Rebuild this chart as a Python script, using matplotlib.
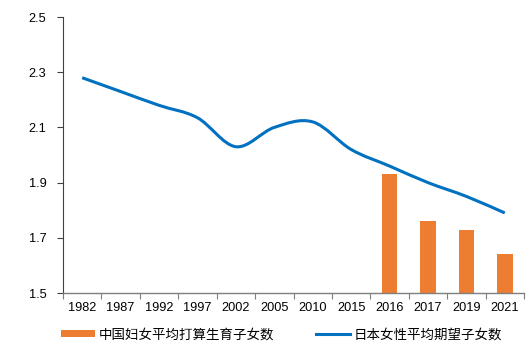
import numpy as np
import matplotlib
matplotlib.use("Agg")
import matplotlib.pyplot as plt
from matplotlib.path import Path
from matplotlib.patches import PathPatch, Patch
from matplotlib.lines import Line2D

years = ["1982", "1987", "1992", "1997", "2002", "2005", "2010", "2015",
         "2016", "2017", "2019", "2021"]
# 日本女性平均期望子女数
japan = [2.28, 2.23, 2.18, 2.135, 2.03, 2.10, 2.12, 2.02, 1.96, 1.90, 1.85, 1.79]
# 中国妇女平均打算生育子女数 (only last four years)
china_years = ["2016", "2017", "2019", "2021"]
china = [1.93, 1.76, 1.73, 1.64]

label_cn = "中国妇女平均打算生育子女数"
label_jp = "日本女性平均期望子女数"
orange = "#ED7D31"
blue = "#0070C0"

plt.rcParams['font.family'] = ['Liberation Sans', 'Noto Sans CJK SC', 'DejaVu Sans']

fig = plt.figure(figsize=(5.32, 3.47), dpi=100)
ax = fig.add_axes([0.1184, 0.1556, 0.8666, 0.7954])

x = np.arange(len(years))
xc = [years.index(y) for y in china_years]
ax.bar(xc, china, width=0.41, color=orange, zorder=2)

# smoothed line (bezier through the points, like Excel's smoothed line)
pts = np.column_stack([x, japan]).astype(float)
verts = [tuple(pts[0])]
codes = [Path.MOVETO]
n = len(pts)
for i in range(n - 1):
    p0 = pts[i - 1] if i > 0 else pts[i]
    p1 = pts[i]
    p2 = pts[i + 1]
    p3 = pts[i + 2] if i + 2 < n else pts[i + 1]
    c1 = p1 + (p2 - p0) / 6.0
    c2 = p2 - (p3 - p1) / 6.0
    verts += [tuple(c1), tuple(c2), tuple(p2)]
    codes += [Path.CURVE4] * 3
ax.add_patch(PathPatch(Path(verts, codes), facecolor="none", edgecolor=blue,
                       lw=2.2, zorder=3, capstyle="butt"))

ax.set_xlim(-0.5, len(years) - 0.5)
ax.set_ylim(1.5, 2.5)
yt = np.arange(1.5, 2.51, 0.2)
ax.set_yticks(yt)
ax.set_yticklabels(["%.1f" % v for v in yt])
ax.set_xticks(x)
ax.set_xticklabels(years)
ax.set_xticks(np.arange(-0.5, len(years), 1.0), minor=True)
ax.tick_params(axis="x", which="major", length=0, pad=6.5, labelsize=9.2, colors="#000000")
ax.tick_params(axis="x", which="minor", length=4, width=0.8, color="#7f7f7f")
ax.tick_params(axis="y", length=4, width=0.8, pad=8, labelsize=9.2, color="#404040")

for s in ["top", "right"]:
    ax.spines[s].set_visible(False)
ax.spines["left"].set_color("#404040")
ax.spines["left"].set_linewidth(0.8)
ax.spines["bottom"].set_color("#7f7f7f")
ax.spines["bottom"].set_linewidth(1.0)

handles = [Patch(facecolor=orange, edgecolor="none"),
           Line2D([0], [0], color=blue, lw=2.2)]
fig.legend(handles, [label_cn, label_jp], loc="center", ncol=2,
           bbox_to_anchor=(0.530, 0.037), frameon=False, handlelength=2.5,
           handleheight=0.5, handletextpad=0.3, columnspacing=3.1,
           prop={"family": ["Noto Sans CJK SC", "DejaVu Sans"], "size": 9.7})

fig.savefig("out.png", dpi=100)
